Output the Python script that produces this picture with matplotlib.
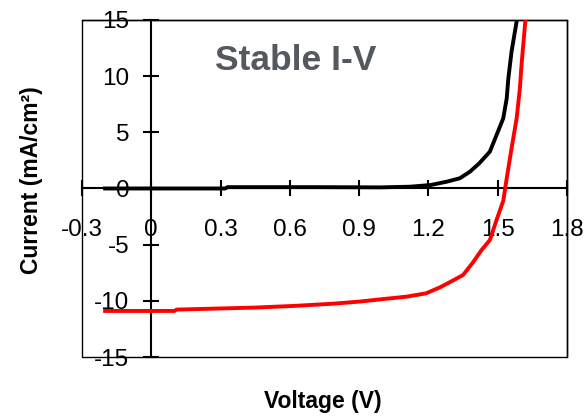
import matplotlib
matplotlib.use("Agg")
import matplotlib.pyplot as plt
from matplotlib.patches import Rectangle

plt.rcParams['font.family'] = ['Liberation Sans', 'DejaVu Sans']

# Dark (black) I-V curve
dark_v = [-0.2, 0.32, 0.33, 0.70, 0.99, 1.12, 1.21, 1.28, 1.336, 1.38, 1.42,
          1.466, 1.495, 1.524, 1.539, 1.546, 1.56, 1.583]
dark_j = [0.0, 0.0, 0.12, 0.12, 0.10, 0.16, 0.31, 0.61, 0.91, 1.5, 2.24,
          3.28, 4.76, 6.25, 8.03, 9.8, 12.2, 15.0]

# Illuminated (red) I-V curve
light_v = [-0.2, 0.10, 0.11, 0.45, 0.62, 0.79, 0.90, 1.0, 1.105, 1.19, 1.25,
           1.31, 1.35, 1.39, 1.43, 1.466, 1.495, 1.524, 1.539, 1.56, 1.582,
           1.596, 1.603, 1.62]
light_j = [-10.9, -10.9, -10.78, -10.6, -10.45, -10.25, -10.07, -9.85, -9.63,
           -9.33, -8.8, -8.15, -7.7, -6.66, -5.48, -4.59, -2.8, -1.1, 0.91,
           3.58, 6.25, 8.92, 11.0, 15.0]

x_ticks = [-0.3, 0, 0.3, 0.6, 0.9, 1.2, 1.5, 1.8]
x_labels = ['-0.3', '0', '0.3', '0.6', '0.9', '1.2', '1.5', '1.8']
y_ticks = [-15, -10, -5, 0, 5, 10, 15]
y_labels = ['-15', '-10', '-5', '0', '5', '10', '15']

fig = plt.figure(figsize=(5.86, 4.16), dpi=100)
ax = fig.add_axes([82/586, 1-357/416, (567-82)/586, (357-20)/416])

ax.plot(dark_v, dark_j, color='black', lw=2.8, solid_joinstyle='round', zorder=3)
ax.plot(light_v, light_j, color='#ff0000', lw=2.8, solid_joinstyle='round', zorder=3)

ax.set_xlim(-0.3, 1.8)
ax.set_ylim(-15, 15)

ax.spines['left'].set_position(('data', 0))
ax.spines['bottom'].set_position(('data', 0))
for s in ['left', 'bottom']:
    ax.spines[s].set_linewidth(1.5)
for s in ['top', 'right']:
    ax.spines[s].set_linewidth(1.0)
ax.add_patch(Rectangle((0, 0), 1, 1, transform=ax.transAxes, fill=False,
                       lw=1.0, edgecolor='black', clip_on=False, zorder=1))

ax.set_xticks(x_ticks)
ax.set_xticklabels(x_labels)
ax.set_yticks(y_ticks)
ax.set_yticklabels(y_labels)
ax.tick_params(axis='both', direction='inout', length=11.5, width=1.5,
               labelsize=17.5, colors='black')
ax.tick_params(axis='x', pad=16.5)
ax.tick_params(axis='y', pad=10)
for lbl in ax.get_xticklabels() + ax.get_yticklabels():
    lbl.set_zorder(0)

fig.text(323/586, 1-408/416, 'Voltage (V)', ha='center', va='baseline',
         fontsize=16.5, fontweight='bold')
fig.text(38/586, 1-180/416, 'Current (mA/cm²)', ha='center', va='baseline',
         rotation=90, fontsize=16.5, fontweight='bold',
         rotation_mode='anchor')
fig.text(296/586, 1-60/416, 'Stable I-V', ha='center', va='center',
         fontsize=25.5, fontweight='bold', color='#54585f')

fig.savefig('out.png', dpi=100)
